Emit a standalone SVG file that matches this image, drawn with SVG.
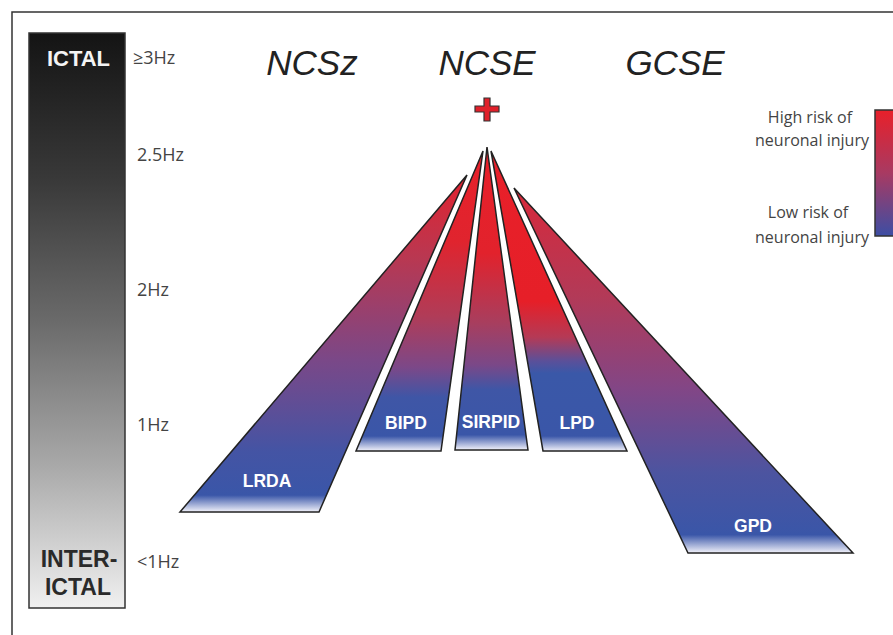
<svg xmlns="http://www.w3.org/2000/svg" width="893" height="635" viewBox="0 0 893 635">
<defs>
<style>
.frame{fill:none;stroke:#333;stroke-width:1.5}
.wedge{stroke:#222;stroke-width:1.5;stroke-linejoin:miter}
.lbl{font-family:"Liberation Sans",Arial,sans-serif;font-weight:bold;fill:#fff;text-anchor:middle;font-size:17.5px}
.title{font-family:"Liberation Sans",Arial,sans-serif;font-style:italic;font-size:35px;fill:#222;text-anchor:middle}
.hz{font-family:"Open Sans","Liberation Sans",sans-serif;font-size:18px;fill:#444}
.leg{font-family:"Open Sans","Liberation Sans",sans-serif;font-size:16px;fill:#444;text-anchor:middle}
.big{font-family:"Liberation Sans",Arial,sans-serif;font-weight:bold;text-anchor:middle}
</style>
<linearGradient id="gBar" x1="0" y1="0" x2="0" y2="1">
<stop offset="0" stop-color="#141414"/>
<stop offset="0.25" stop-color="#383838"/>
<stop offset="0.5" stop-color="#6a6a6a"/>
<stop offset="0.75" stop-color="#a8a8a8"/>
<stop offset="1" stop-color="#f0f0f0"/>
</linearGradient>
<linearGradient id="gLeg" x1="0" y1="0" x2="0" y2="1">
<stop offset="0" stop-color="#e8202a"/>
<stop offset="0.5" stop-color="#a83a62"/>
<stop offset="1" stop-color="#3d4ea4"/>
</linearGradient>
<linearGradient id="gLRDA" gradientUnits="userSpaceOnUse" x1="0" y1="175" x2="0" y2="512">
<stop offset="0" stop-color="#e2222e"/>
<stop offset="0.25" stop-color="#b83852"/>
<stop offset="0.55" stop-color="#7a4888"/>
<stop offset="0.82" stop-color="#4454a4"/>
<stop offset="0.95" stop-color="#3a56a8"/>
<stop offset="1" stop-color="#f2f2fa"/>
</linearGradient>
<linearGradient id="gBIPD" gradientUnits="userSpaceOnUse" x1="0" y1="152" x2="0" y2="451">
<stop offset="0" stop-color="#e8202a"/>
<stop offset="0.3" stop-color="#e0242e"/>
<stop offset="0.55" stop-color="#b03c58"/>
<stop offset="0.72" stop-color="#7c4888"/>
<stop offset="0.82" stop-color="#3f56a6"/>
<stop offset="0.95" stop-color="#3a56a8"/>
<stop offset="1" stop-color="#f2f2fa"/>
</linearGradient>
<linearGradient id="gSIR" gradientUnits="userSpaceOnUse" x1="0" y1="147" x2="0" y2="450">
<stop offset="0" stop-color="#e8202a"/>
<stop offset="0.35" stop-color="#e2222c"/>
<stop offset="0.58" stop-color="#a83e5e"/>
<stop offset="0.72" stop-color="#7a4888"/>
<stop offset="0.8" stop-color="#3f56a6"/>
<stop offset="0.95" stop-color="#3a56a8"/>
<stop offset="1" stop-color="#f2f2fa"/>
</linearGradient>
<linearGradient id="gLPD" gradientUnits="userSpaceOnUse" x1="0" y1="152" x2="0" y2="451">
<stop offset="0" stop-color="#e8202a"/>
<stop offset="0.5" stop-color="#e61f28"/>
<stop offset="0.62" stop-color="#b43a56"/>
<stop offset="0.7" stop-color="#5a509a"/>
<stop offset="0.74" stop-color="#3a58a8"/>
<stop offset="0.95" stop-color="#3a56a8"/>
<stop offset="1" stop-color="#f2f2fa"/>
</linearGradient>
<linearGradient id="gGPD" gradientUnits="userSpaceOnUse" x1="0" y1="188" x2="0" y2="553">
<stop offset="0" stop-color="#d8283a"/>
<stop offset="0.3" stop-color="#b23a58"/>
<stop offset="0.55" stop-color="#824686"/>
<stop offset="0.78" stop-color="#4c54a0"/>
<stop offset="0.95" stop-color="#3a56a8"/>
<stop offset="1" stop-color="#f2f2fa"/>
</linearGradient>
</defs>
<rect x="0" y="0" width="893" height="635" fill="#fff"/>
<rect class="frame" x="12" y="12" width="900" height="640"/>

<g id="scale-bar">
<rect x="29" y="33" width="96" height="575" fill="url(#gBar)" stroke="#333" stroke-width="1.5"/>
<text class="big" x="78.5" y="66" font-size="22" fill="#f4f4f4">ICTAL</text>
<text class="big" x="79" y="567" font-size="23" fill="#2a2a2a">INTER-</text>
<text class="big" x="78" y="595" font-size="23" fill="#2a2a2a">ICTAL</text>
</g>

<g id="freq-labels">
<text class="hz" x="133" y="64" fill="#666">≥3Hz</text>
<text class="hz" x="137" y="161" font-size="20" fill="#111">2.5Hz</text>
<text class="hz" x="137" y="296">2Hz</text>
<text class="hz" x="137" y="431">1Hz</text>
<text class="hz" x="137" y="568">&lt;1Hz</text>
</g>

<g id="titles">
<text class="title" x="312" y="75">NCSz</text>
<text class="title" x="487" y="75">NCSE</text>
<text class="title" x="675" y="75" font-size="34">GCSE</text>
</g>

<g id="plus">
<path d="M484,98 h6 v8 h9 v6 h-9 v9 h-6 v-9 h-9 v-6 h9 z" fill="#e0202a" stroke="#333" stroke-width="1.2"/>
</g>

<g id="LRDA">
<polygon class="wedge" points="467,175 180,512 319,512" fill="url(#gLRDA)"/>
<text class="lbl" x="267" y="487">LRDA</text>
</g>
<g id="BIPD">
<polygon class="wedge" points="483,151 356,451 441,451" fill="url(#gBIPD)"/>
<text class="lbl" x="406" y="429">BIPD</text>
</g>
<g id="SIRPID">
<polygon class="wedge" points="487,147 455,450 528,450" fill="url(#gSIR)"/>
<text class="lbl" x="491" y="428">SIRPID</text>
</g>
<g id="LPD">
<polygon class="wedge" points="491,151 543,451 627,451" fill="url(#gLPD)"/>
<text class="lbl" x="577" y="429">LPD</text>
</g>
<g id="GPD">
<polygon class="wedge" points="514,188 688,553 853,553" fill="url(#gGPD)"/>
<text class="lbl" x="753" y="532">GPD</text>
</g>

<g id="legend">
<rect x="875" y="110" width="30" height="126" fill="url(#gLeg)" stroke="#333" stroke-width="1.5"/>
<text class="leg" x="810" y="123">High risk of</text>
<text class="leg" x="812" y="146">neuronal injury</text>
<text class="leg" x="808" y="218">Low risk of</text>
<text class="leg" x="812" y="243">neuronal injury</text>
</g>
</svg>
